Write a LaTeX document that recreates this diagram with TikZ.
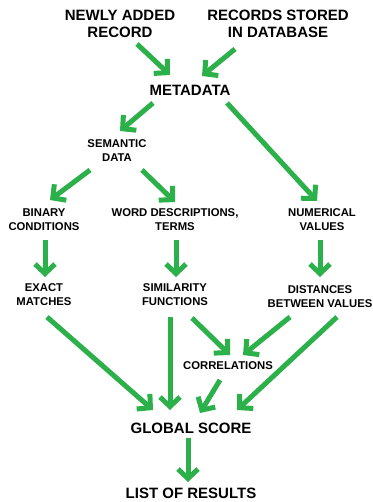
\documentclass[tikz,border=0pt]{standalone}
\usepackage{fontspec}
\setmainfont{Liberation Sans}
\usepackage{tikz}
\usetikzlibrary{arrows.meta,positioning}
\definecolor{flowgreen}{RGB}{44,176,74}
\tikzset{
major/.style = {font=\bfseries\fontsize{15pt}{17pt}\selectfont, align=center, inner sep=2pt},
minor/.style = {font=\bfseries\fontsize{11.3pt}{14pt}\selectfont, align=center, inner sep=2pt},
flow/.style  = {->, draw=flowgreen, line width=5pt}
}
\begin{document}
\begin{tikzpicture}[x=1pt, y=1pt, node distance=75pt, >={Straight Barb[length=9.5pt,width=20pt]}]
    \useasboundingbox (0,0) rectangle (372,-502);
    \node [major] (newrec) at (120,-24) {NEWLY ADDED\\RECORD};
    \node [major] (stored) at (278,-24) {RECORDS STORED\\IN DATABASE};
    \node [major] (meta) at (190,-90) {METADATA};
    \node [minor] (sem) at (117,-151) {SEMANTIC\\DATA};
    \node [minor] (binary) at (44,-220) {BINARY\\CONDITIONS};
    \node [minor, right of=binary, node distance=131pt] (words) {WORD DESCRIPTIONS,\\TERMS};
    \node [minor, right of=words, node distance=147pt] (numeric) {NUMERICAL\\VALUES};
    \node [minor, below of=binary] (exact) {EXACT\\MATCHES};
    \node [minor, below of=words] (simil) {SIMILARITY\\FUNCTIONS};
    \node [minor] (dist) at (320,-297) {DISTANCES\\BETWEEN VALUES};
    \node [minor] (corr) at (228,-366) {CORRELATIONS};
    \node [major] (score) at (191,-428) {GLOBAL SCORE};
    \node [major, below of=score, node distance=65pt] (results) {LIST OF RESULTS};
    \draw [flow] ([shift={(17,-20)}]newrec.center) -- ([shift={(-20,15)}]meta.center);
    \draw [flow] ([shift={(-43,-25)}]stored.center) -- ([shift={(12,14)}]meta.center);
    \draw [flow] ([shift={(-37,-13)}]meta.center) -- ([shift={(3,20)}]sem.center);
    \draw [flow] ([shift={(37,-13)}]meta.center) -- ([shift={(-5,19)}]numeric.center);
    \draw [flow] ([shift={(-27,-19)}]sem.center) -- ([shift={(6,20)}]binary.center);
    \draw [flow] ([shift={(25,-19)}]sem.center) -- ([shift={(0,18)}]words.center);
    \draw [flow] ([shift={(1,-20)}]binary.center) -- ([shift={(1,18)}]exact.center);
    \draw [flow] ([shift={(1,-20)}]words.center) -- ([shift={(1,18)}]simil.center);
    \draw [flow] ([shift={(-2,-20)}]numeric.center) -- ([shift={(0,20)}]dist.center);
    \draw [flow] ([shift={(3,-22)}]exact.center) -- ([shift={(-38,18)}]score.center);
    \draw [flow] ([shift={(-5,-22)}]simil.center) -- ([shift={(-21,18)}]score.center);
    \draw [flow] ([shift={(17,-23)}]simil.center) -- ([shift={(2,11)}]corr.center);
    \draw [flow] ([shift={(-30,-20)}]dist.center) -- ([shift={(15,11)}]corr.center);
    \draw [flow] ([shift={(17,-20)}]dist.center) -- ([shift={(46,18)}]score.center);
    \draw [flow] ([shift={(-8,-14)}]corr.center) -- ([shift={(9,15)}]score.center);
    \draw [flow] ([shift={(-3,-10)}]score.center) -- ([shift={(-3,11)}]results.center);
\end{tikzpicture}
\end{document}
